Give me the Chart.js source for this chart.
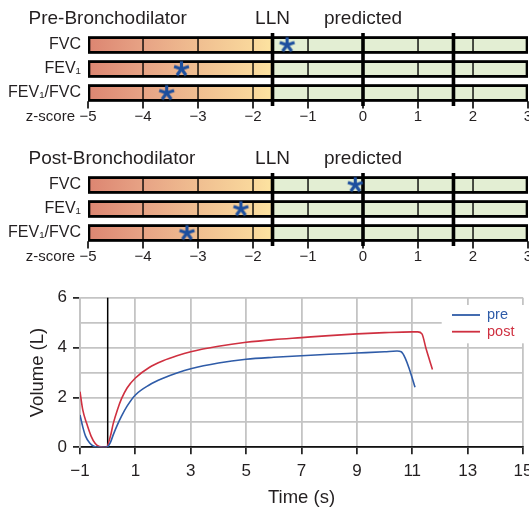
<!DOCTYPE html>
<html>
<head>
<meta charset="utf-8">
<script src="https://cdn.jsdelivr.net/npm/chart.js@4/dist/chart.umd.min.js"></script>
<style>
  html, body { margin: 0; padding: 0; background: #fff; }
  #wrap { position: relative; width: 529px; height: 510px; overflow: hidden; }
  #wrap canvas { position: absolute; left: 0; }
</style>
</head>
<body>
<div id="wrap">
  <canvas id="zPre" width="529" height="140" style="top:0px"></canvas>
  <canvas id="zPost" width="529" height="140" style="top:140px"></canvas>
  <canvas id="spiro" width="529" height="230" style="top:280px"></canvas>
</div>
<script>
// ---- z-score panels ----
const zRows = ['FVC', 'FEV\u2081', 'FEV\u2081/FVC'];
const zMin = -5;
const zMax = 3;
const zLLN = -1.645;
const zULN = 1.645;
const zMarkers = [zLLN, 0, zULN];
const zBands = [-5, -4, -3, -2, zLLN, -1, 0, 1, zULN, 2, 3];
const zPre = [-1.38, -3.30, -3.57];
const zPost = [-0.14, -2.22, -3.20];
const zTitlePre = 'Pre-Bronchodilator';
const zTitlePost = 'Post-Bronchodilator';
const zAxisName = 'z-score';
const zLLNText = 'LLN';
const zPredText = 'predicted';

// ---- volume-time curves ----
const timePre = [-1, -0.9, -0.8, -0.65, -0.5, -0.3, -0.05, 0.1, 0.2, 0.35, 0.5, 0.7, 1, 1.5, 2, 2.5, 3, 4, 5, 6, 7, 8, 9, 10, 10.45, 10.6, 10.75, 10.9, 11.1];
const volPre = [1.3, 0.82, 0.45, 0.17, 0.04, 0, 0, 0.2, 0.5, 0.9, 1.25, 1.65, 2.1, 2.5, 2.77, 2.98, 3.15, 3.38, 3.53, 3.61, 3.67, 3.73, 3.78, 3.83, 3.86, 3.83, 3.57, 3.12, 2.41];
const timePost = [-1, -0.9, -0.76, -0.6, -0.45, -0.3, -0.05, 0.1, 0.2, 0.35, 0.5, 0.7, 1, 1.5, 2, 2.5, 3, 4, 5, 6, 7, 8, 9, 10, 11, 11.2, 11.35, 11.5, 11.73];
const volPost = [2.23, 1.5, 0.96, 0.45, 0.15, 0.03, 0, 0.45, 0.95, 1.5, 1.95, 2.38, 2.78, 3.2, 3.47, 3.67, 3.83, 4.05, 4.21, 4.32, 4.4, 4.48, 4.55, 4.6, 4.63, 4.63, 4.55, 3.95, 3.12];
const timeTicks = [-1, 1, 3, 5, 7, 9, 11, 13, 15];
const seriesNames = ['pre', 'post'];

const FONT = "'Liberation Sans', Arial, Helvetica, sans-serif";
const INK = '#231f20';
const PRE_COLOR = '#2f5ca8';
const POST_COLOR = '#cf3040';
const STAR_COLOR = '#1d4f9e';
const GREEN = '#e3eed3';
const GRID_GRAY = '#c4c4c4';

Chart.defaults.font.family = FONT;
Chart.defaults.color = INK;

const fmtMinus = (v) => (v < 0 ? '\u2212' + Math.abs(v) : String(v));

// five-armed asterisk used as the marker for each z-score
function makeAsterisk(color, r, w) {
  const size = Math.ceil(2 * r + w + 2);
  const c = document.createElement('canvas');
  c.width = size; c.height = size;
  const g = c.getContext('2d');
  g.translate(size / 2, size / 2);
  g.strokeStyle = color;
  g.lineWidth = w;
  g.lineCap = 'butt';
  for (let k = 0; k < 5; k++) {
    const a = -Math.PI / 2 + k * 2 * Math.PI / 5;
    g.beginPath();
    g.moveTo(0, 0);
    g.lineTo(r * Math.cos(a), r * Math.sin(a));
    g.stroke();
  }
  return c;
}
const asterisk = makeAsterisk(STAR_COLOR, 7.8, 3.2);

// red-to-yellow ramp below the LLN, pale green above it
function bandFill(chart, lo) {
  if (lo >= zLLN) return GREEN;
  const xs = chart.scales.x;
  if (!chart.chartArea || !xs) return '#eab08c';
  const g = chart.ctx.createLinearGradient(xs.getPixelForValue(zMin), 0, xs.getPixelForValue(zLLN), 0);
  g.addColorStop(0, '#dc8571');
  g.addColorStop(0.3, '#e7a385');
  g.addColorStop(0.6, '#f0bf91');
  g.addColorStop(0.9, '#f9d89c');
  g.addColorStop(1, '#fde4a1');
  return g;
}

const zPanelDecor = {
  id: 'zPanelDecor',
  beforeDatasetDraw(chart, args, opts) {
    if (args.index !== opts.starIndex) return;
    const { ctx, chartArea: a, scales: { x } } = chart;
    const rows = chart.getDatasetMeta(opts.outlineIndex).data;
    const lastBar = rows[rows.length - 1];
    const yb = lastBar.y + lastBar.height / 2;
    ctx.save();
    ctx.strokeStyle = '#000';
    // tick marks hanging under the last row
    ctx.lineWidth = 1.6;
    x.ticks.forEach((t) => {
      const px = x.getPixelForValue(t.value);
      ctx.beginPath();
      ctx.moveTo(px, yb);
      ctx.lineTo(px, a.bottom + 3.5);
      ctx.stroke();
    });
    // LLN, predicted and ULN markers
    ctx.lineWidth = 3.6;
    zMarkers.forEach((z) => {
      const px = x.getPixelForValue(z);
      ctx.beginPath();
      ctx.moveTo(px, a.top);
      ctx.lineTo(px, a.bottom + 1);
      ctx.stroke();
    });
    ctx.restore();
  },
  afterDraw(chart, args, opts) {
    const { ctx, chartArea: a, scales: { x } } = chart;
    ctx.save();
    ctx.fillStyle = INK;
    ctx.font = '19px ' + FONT;
    ctx.textBaseline = 'alphabetic';
    ctx.textAlign = 'left';
    ctx.fillText(opts.title, 28.5, 23.5);
    ctx.textAlign = 'center';
    ctx.fillText(zLLNText, x.getPixelForValue(zLLN), 24);
    ctx.fillText(zPredText, x.getPixelForValue(0), 24);
    ctx.font = '15px ' + FONT;
    ctx.textAlign = 'right';
    ctx.textBaseline = 'middle';
    ctx.fillText(zAxisName, 75, a.bottom + 12);
    ctx.restore();
  }
};

function makeZPanel(id, title, scores) {
  const datasets = [];
  datasets.push({
    type: 'scatter',
    order: 0,
    data: scores.map((z, i) => ({ x: z, y: zRows[i] })),
    pointStyle: asterisk,
    pointRadius: 1,
    pointHoverRadius: 1,
    pointBorderWidth: 0
  });
  datasets.push({
    type: 'bar',
    indexAxis: 'y',
    grouped: false,
    order: 1,
    data: zRows.map(() => [zMin, zMax]),
    backgroundColor: 'rgba(0,0,0,0)',
    borderColor: '#000',
    borderWidth: 2,
    borderSkipped: false,
    barThickness: 16.6
  });
  for (let i = 0; i < zBands.length - 1; i++) {
    const lo = zBands[i];
    const hi = zBands[i + 1];
    datasets.push({
      type: 'bar',
      indexAxis: 'y',
      grouped: false,
      order: 2,
      data: zRows.map(() => [lo, hi]),
      backgroundColor: (c) => bandFill(c.chart, lo),
      borderColor: '#000',
      borderWidth: 1,
      borderSkipped: false,
      barThickness: 16.6
    });
  }
  return new Chart(document.getElementById(id), {
    type: 'bar',
    data: { labels: zRows, datasets },
    options: {
      responsive: false,
      animation: false,
      events: [],
      layout: { padding: { left: 0, right: 1, top: 33, bottom: 0 } },
      plugins: {
        legend: { display: false },
        tooltip: { enabled: false },
        zPanelDecor: { title, starIndex: 0, outlineIndex: 1 }
      },
      scales: {
        x: {
          type: 'linear',
          offset: false,
          min: zMin,
          max: zMax,
          ticks: { stepSize: 1, font: { size: 15 }, color: INK, padding: 3, maxRotation: 0, autoSkip: false, callback: fmtMinus },
          grid: { display: false, drawTicks: false, offset: false },
          border: { display: false },
          afterFit: (s) => { s.height = 35; s.paddingLeft = 0; s.paddingRight = 0; }
        },
        y: {
          type: 'category',
          offset: true,
          ticks: { font: { size: 16 }, color: INK, padding: 7 },
          grid: { display: false, drawTicks: false },
          border: { display: false },
          afterFit: (s) => { s.width = 88; s.paddingTop = 0; s.paddingBottom = 0; }
        }
      }
    },
    plugins: [zPanelDecor]
  });
}

makeZPanel('zPre', zTitlePre, zPre);
makeZPanel('zPost', zTitlePost, zPost);

// ---- volume-time chart ----
const spiroDecor = {
  id: 'spiroDecor',
  beforeDatasetsDraw(chart) {
    const { ctx, chartArea: a, scales: { x } } = chart;
    ctx.save();
    // legend backdrop
    ctx.fillStyle = '#fff';
    ctx.fillRect(a.right - 81.3, a.top + 7.3, chart.width - (a.right - 81.3), 38.3);
    // start-of-blow line at t = 0
    const x0 = x.getPixelForValue(0);
    ctx.strokeStyle = '#000';
    ctx.lineWidth = 1.5;
    ctx.beginPath();
    ctx.moveTo(x0, a.top);
    ctx.lineTo(x0, a.bottom);
    ctx.stroke();
    ctx.restore();
  },
  afterDraw(chart) {
    const { ctx, chartArea: a } = chart;
    ctx.save();
    ctx.font = '14.5px ' + FONT;
    ctx.textAlign = 'left';
    ctx.textBaseline = 'middle';
    chart.data.datasets.forEach((ds, i) => {
      const y = a.top + 17.3 + i * 16.7;
      ctx.strokeStyle = ds.borderColor;
      ctx.lineWidth = 1.8;
      ctx.beginPath();
      ctx.moveTo(a.right - 71, y);
      ctx.lineTo(a.right - 43, y);
      ctx.stroke();
      ctx.fillStyle = ds.borderColor;
      ctx.fillText(ds.label, a.right - 36, y);
    });
    ctx.restore();
  }
};

new Chart(document.getElementById('spiro'), {
  type: 'line',
  data: {
    datasets: [
      {
        label: seriesNames[0],
        data: timePre.map((t, i) => ({ x: t, y: volPre[i] })),
        borderColor: PRE_COLOR,
        borderWidth: 1.6,
        pointRadius: 0,
        cubicInterpolationMode: 'monotone',
        fill: false
      },
      {
        label: seriesNames[1],
        data: timePost.map((t, i) => ({ x: t, y: volPost[i] })),
        borderColor: POST_COLOR,
        borderWidth: 1.6,
        pointRadius: 0,
        cubicInterpolationMode: 'monotone',
        fill: false
      }
    ]
  },
  options: {
    responsive: false,
    animation: false,
    events: [],
    layout: { padding: { left: 0, right: 6, top: 17.7, bottom: 0 } },
    plugins: { legend: { display: false }, tooltip: { enabled: false } },
    scales: {
      x: {
        type: 'linear',
        min: timeTicks[0],
        max: timeTicks[timeTicks.length - 1],
        afterBuildTicks: (s) => { s.ticks = timeTicks.map((v) => ({ value: v })); },
        ticks: { font: { size: 17 }, color: INK, padding: 7, maxRotation: 0, autoSkip: false, callback: fmtMinus },
        grid: { color: GRID_GRAY, lineWidth: 1.8, tickColor: '#000', tickLength: 7, tickWidth: 1.5 },
        border: { color: '#111', width: 1.8 },
        title: { display: true, text: 'Time (s)', font: { size: 18.5 }, color: INK, padding: { top: 0, bottom: 1 } },
        afterFit: (s) => { s.height = 62.7; s.paddingLeft = 0; s.paddingRight = 0; }
      },
      y: {
        type: 'linear',
        min: 0,
        max: 6,
        ticks: { stepSize: 1, font: { size: 17 }, color: INK, padding: 6, callback: (v) => (v % 2 === 0 ? String(v) : '') },
        grid: {
          color: GRID_GRAY,
          lineWidth: 1.8,
          tickColor: (c) => (c.tick && c.tick.value % 2 === 0 ? '#000' : 'rgba(0,0,0,0)'),
          tickLength: 7,
          tickWidth: 1.5
        },
        border: { color: GRID_GRAY, width: 1.8 },
        title: { display: true, text: 'Volume (L)', font: { size: 18.5 }, color: INK, padding: { top: 27, bottom: 0 } },
        afterFit: (s) => { s.width = 80; s.paddingTop = 0; s.paddingBottom = 0; }
      }
    }
  },
  plugins: [spiroDecor]
});
</script>
</body>
</html>
